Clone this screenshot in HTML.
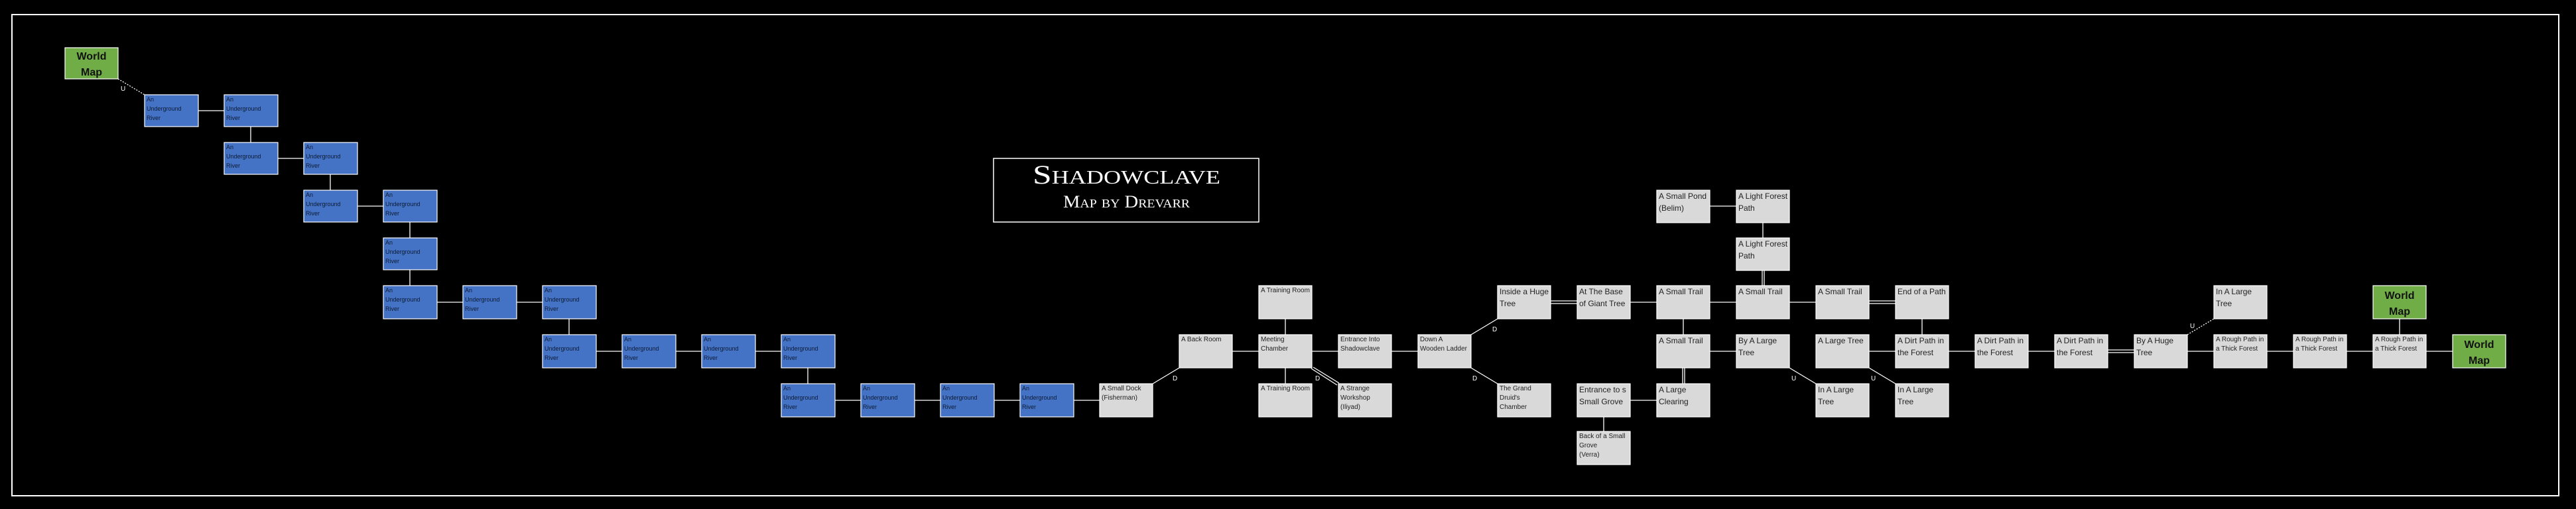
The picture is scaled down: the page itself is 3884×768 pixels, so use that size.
<!DOCTYPE html>
<html><head><meta charset="utf-8"><style>
html,body{margin:0;padding:0;background:#000;width:3884px;height:768px;overflow:hidden}
svg{display:block}
.b{fill:#4472C4;stroke:#fff;stroke-width:1.2}
.g{fill:#D9D9D9;stroke:#fff;stroke-width:1.2}
.w{fill:#70AD47;stroke:#fff;stroke-width:1.2}
.bt{font-family:"Liberation Sans Narrow","Liberation Sans",sans-serif;font-size:9px;fill:#0d1a33}
.s{font-family:"Liberation Sans Narrow","Liberation Sans",sans-serif;font-size:10px;fill:#222}
.m{font-family:"Liberation Sans Narrow","Liberation Sans",sans-serif;font-size:12px;fill:#222}
.wt{font-family:"Liberation Sans",sans-serif;font-size:16px;font-weight:bold;fill:#111;text-anchor:middle}
.l{font-family:"Liberation Sans",sans-serif;font-size:10px;fill:#fff}
line{stroke:#fff;stroke-width:1.3}
</style></head><body>
<svg width="3884" height="768" viewBox="0 0 3884 768" xmlns="http://www.w3.org/2000/svg">
<rect x="18" y="22" width="3840" height="726" fill="none" stroke="#fff" stroke-width="2"/>
<!-- title -->
<rect x="1498" y="239" width="400" height="96" fill="#000" stroke="#fff" stroke-width="1.5"/>
<text x="1557" y="277" textLength="283" lengthAdjust="spacingAndGlyphs" font-family="Liberation Serif,serif" font-size="40" style="font-variant:small-caps" fill="#fff">Shadowclave</text>
<text x="1603" y="313" textLength="191" lengthAdjust="spacingAndGlyphs" font-family="Liberation Serif,serif" font-size="26" style="font-variant:small-caps" fill="#fff">Map by Drevarr</text>

<!-- connectors -->
<line x1="178" y1="119" x2="218" y2="143" stroke-dasharray="2,2"/>
<text class="l" x="182" y="137">U</text>
<line x1="299" y1="167" x2="338" y2="167"/>
<line x1="378" y1="191" x2="378" y2="215"/>
<line x1="419" y1="239" x2="458" y2="239"/>
<line x1="498" y1="263" x2="498" y2="287"/>
<line x1="539" y1="311" x2="578" y2="311"/>
<line x1="618" y1="335" x2="618" y2="359"/>
<line x1="618" y1="407" x2="618" y2="431"/>
<line x1="659" y1="456" x2="698" y2="456"/>
<line x1="779" y1="456" x2="818" y2="456"/>
<line x1="858" y1="481" x2="858" y2="505"/>
<line x1="899" y1="530" x2="938" y2="530"/>
<line x1="1019" y1="530" x2="1058" y2="530"/>
<line x1="1139" y1="530" x2="1178" y2="530"/>
<line x1="1218" y1="555" x2="1218" y2="579"/>
<line x1="1259" y1="604" x2="1298" y2="604"/>
<line x1="1379" y1="604" x2="1418" y2="604"/>
<line x1="1499" y1="604" x2="1538" y2="604"/>
<line x1="1619" y1="604" x2="1658" y2="604"/>
<line x1="1738" y1="579" x2="1778" y2="555"/>
<text class="l" x="1768" y="574">D</text>
<line x1="1858" y1="530" x2="1898" y2="530"/>
<line x1="1938" y1="481" x2="1938" y2="505"/>
<line x1="1938" y1="555" x2="1938" y2="579"/>
<line x1="1978" y1="530" x2="2018" y2="530"/>
<line x1="2098" y1="530" x2="2138" y2="530"/>
<line x1="1977" y1="556" x2="2016" y2="581"/>
<line x1="1980" y1="554" x2="2019" y2="578"/>
<text class="l" x="1983" y="574">D</text>
<line x1="2218" y1="505" x2="2258" y2="481"/>
<text class="l" x="2250" y="500">D</text>
<line x1="2218" y1="555" x2="2258" y2="579"/>
<text class="l" x="2220" y="574">D</text>
<line x1="2338" y1="454" x2="2378" y2="454"/>
<line x1="2338" y1="458" x2="2378" y2="458"/>
<line x1="2458" y1="456" x2="2498" y2="456"/>
<line x1="2578" y1="456" x2="2618" y2="456"/>
<line x1="2698" y1="456" x2="2738" y2="456"/>
<line x1="2818" y1="454" x2="2858" y2="454"/>
<line x1="2818" y1="458" x2="2858" y2="458"/>
<line x1="2657" y1="408" x2="2657" y2="431"/>
<line x1="2660" y1="408" x2="2660" y2="431"/>
<line x1="2658" y1="336" x2="2658" y2="359"/>
<line x1="2578" y1="311" x2="2618" y2="311"/>
<line x1="2538" y1="481" x2="2538" y2="505"/>
<line x1="2537" y1="555" x2="2537" y2="579"/>
<line x1="2540" y1="555" x2="2540" y2="579"/>
<line x1="2578" y1="530" x2="2618" y2="530"/>
<line x1="2698" y1="555" x2="2738" y2="579"/>
<text class="l" x="2701" y="574">U</text>
<line x1="2818" y1="530" x2="2858" y2="530"/>
<line x1="2818" y1="555" x2="2858" y2="579"/>
<text class="l" x="2821" y="574">U</text>
<line x1="2898" y1="481" x2="2898" y2="505"/>
<line x1="2938" y1="530" x2="2978" y2="530"/>
<line x1="3058" y1="530" x2="3098" y2="530"/>
<line x1="3178" y1="528" x2="3218" y2="528"/>
<line x1="3178" y1="532" x2="3218" y2="532"/>
<line x1="3298" y1="530" x2="3338" y2="530"/>
<line x1="3418" y1="530" x2="3458" y2="530"/>
<line x1="3538" y1="530" x2="3578" y2="530"/>
<line x1="3658" y1="530" x2="3698" y2="530"/>
<line x1="3618" y1="481" x2="3618" y2="505"/>
<line x1="3298" y1="505" x2="3338" y2="481" stroke-dasharray="2,2"/>
<text class="l" x="3302" y="495">U</text>
<line x1="2458" y1="604" x2="2498" y2="604"/>
<line x1="2418" y1="629" x2="2418" y2="651"/>

<!-- world maps -->
<rect class="w" x="98" y="72" width="80" height="47"/><text class="wt" x="138" y="90">World</text><text class="wt" x="138" y="114">Map</text>
<rect class="w" x="3578" y="431" width="80" height="50"/><text class="wt" x="3618" y="451">World</text><text class="wt" x="3618" y="475">Map</text>
<rect class="w" x="3698" y="505" width="80" height="50"/><text class="wt" x="3738" y="525">World</text><text class="wt" x="3738" y="549">Map</text>

<!-- blue boxes -->
<g>
<rect class="b" x="218" y="143" width="81" height="48"/><text class="bt" x="221" y="153">An</text><text class="bt" x="221" y="167">Underground</text><text class="bt" x="221" y="181">River</text>
<rect class="b" x="338" y="143" width="81" height="48"/><text class="bt" x="341" y="153">An</text><text class="bt" x="341" y="167">Underground</text><text class="bt" x="341" y="181">River</text>
<rect class="b" x="338" y="215" width="81" height="48"/><text class="bt" x="341" y="225">An</text><text class="bt" x="341" y="239">Underground</text><text class="bt" x="341" y="253">River</text>
<rect class="b" x="458" y="215" width="81" height="48"/><text class="bt" x="461" y="225">An</text><text class="bt" x="461" y="239">Underground</text><text class="bt" x="461" y="253">River</text>
<rect class="b" x="458" y="287" width="81" height="48"/><text class="bt" x="461" y="297">An</text><text class="bt" x="461" y="311">Underground</text><text class="bt" x="461" y="325">River</text>
<rect class="b" x="578" y="287" width="81" height="48"/><text class="bt" x="581" y="297">An</text><text class="bt" x="581" y="311">Underground</text><text class="bt" x="581" y="325">River</text>
<rect class="b" x="578" y="359" width="81" height="48"/><text class="bt" x="581" y="369">An</text><text class="bt" x="581" y="383">Underground</text><text class="bt" x="581" y="397">River</text>
<rect class="b" x="578" y="431" width="81" height="50"/><text class="bt" x="581" y="441">An</text><text class="bt" x="581" y="455">Underground</text><text class="bt" x="581" y="469">River</text>
<rect class="b" x="698" y="431" width="81" height="50"/><text class="bt" x="701" y="441">An</text><text class="bt" x="701" y="455">Underground</text><text class="bt" x="701" y="469">River</text>
<rect class="b" x="818" y="431" width="81" height="50"/><text class="bt" x="821" y="441">An</text><text class="bt" x="821" y="455">Underground</text><text class="bt" x="821" y="469">River</text>
<rect class="b" x="818" y="505" width="81" height="50"/><text class="bt" x="821" y="515">An</text><text class="bt" x="821" y="529">Underground</text><text class="bt" x="821" y="543">River</text>
<rect class="b" x="938" y="505" width="81" height="50"/><text class="bt" x="941" y="515">An</text><text class="bt" x="941" y="529">Underground</text><text class="bt" x="941" y="543">River</text>
<rect class="b" x="1058" y="505" width="81" height="50"/><text class="bt" x="1061" y="515">An</text><text class="bt" x="1061" y="529">Underground</text><text class="bt" x="1061" y="543">River</text>
<rect class="b" x="1178" y="505" width="81" height="50"/><text class="bt" x="1181" y="515">An</text><text class="bt" x="1181" y="529">Underground</text><text class="bt" x="1181" y="543">River</text>
<rect class="b" x="1178" y="579" width="81" height="50"/><text class="bt" x="1181" y="589">An</text><text class="bt" x="1181" y="603">Underground</text><text class="bt" x="1181" y="617">River</text>
<rect class="b" x="1298" y="579" width="81" height="50"/><text class="bt" x="1301" y="589">An</text><text class="bt" x="1301" y="603">Underground</text><text class="bt" x="1301" y="617">River</text>
<rect class="b" x="1418" y="579" width="81" height="50"/><text class="bt" x="1421" y="589">An</text><text class="bt" x="1421" y="603">Underground</text><text class="bt" x="1421" y="617">River</text>
<rect class="b" x="1538" y="579" width="81" height="50"/><text class="bt" x="1541" y="589">An</text><text class="bt" x="1541" y="603">Underground</text><text class="bt" x="1541" y="617">River</text>
</g>

<!-- grey boxes small text -->
<rect class="g" x="1658" y="579" width="80" height="50"/><text class="s" x="1661" y="589">A Small Dock</text><text class="s" x="1661" y="603">(Fisherman)</text>
<rect class="g" x="1778" y="505" width="80" height="50"/><text class="s" x="1781" y="515">A Back Room</text>
<rect class="g" x="1898" y="431" width="80" height="50"/><text class="s" x="1901" y="441">A Training Room</text>
<rect class="g" x="1898" y="505" width="80" height="50"/><text class="s" x="1901" y="515">Meeting</text><text class="s" x="1901" y="529">Chamber</text>
<rect class="g" x="1898" y="579" width="80" height="50"/><text class="s" x="1901" y="589">A Training Room</text>
<rect class="g" x="2018" y="505" width="80" height="50"/><text class="s" x="2021" y="515">Entrance Into</text><text class="s" x="2021" y="529">Shadowclave</text>
<rect class="g" x="2018" y="579" width="80" height="50"/><text class="s" x="2021" y="589">A Strange</text><text class="s" x="2021" y="603">Workshop</text><text class="s" x="2021" y="617">(Iliyad)</text>
<rect class="g" x="2138" y="505" width="80" height="50"/><text class="s" x="2141" y="515">Down A</text><text class="s" x="2141" y="529">Wooden Ladder</text>
<rect class="g" x="2258" y="579" width="80" height="50"/><text class="s" x="2261" y="589">The Grand</text><text class="s" x="2261" y="603">Druid's</text><text class="s" x="2261" y="617">Chamber</text>
<rect class="g" x="2378" y="651" width="80" height="50"/><text class="s" x="2381" y="661">Back of a Small</text><text class="s" x="2381" y="675">Grove</text><text class="s" x="2381" y="689">(Verra)</text>
<rect class="g" x="3338" y="505" width="80" height="50"/><text class="s" x="3341" y="515">A Rough Path in</text><text class="s" x="3341" y="529">a Thick Forest</text>
<rect class="g" x="3458" y="505" width="80" height="50"/><text class="s" x="3461" y="515">A Rough Path in</text><text class="s" x="3461" y="529">a Thick Forest</text>
<rect class="g" x="3578" y="505" width="80" height="50"/><text class="s" x="3581" y="515">A Rough Path in</text><text class="s" x="3581" y="529">a Thick Forest</text>

<!-- grey boxes medium text -->
<rect class="g" x="2258" y="431" width="80" height="50"/><text class="m" x="2261" y="444">Inside a Huge</text><text class="m" x="2261" y="462">Tree</text>
<rect class="g" x="2378" y="431" width="80" height="50"/><text class="m" x="2381" y="444">At The Base</text><text class="m" x="2381" y="462">of Giant Tree</text>
<rect class="g" x="2498" y="431" width="80" height="50"/><text class="m" x="2501" y="444">A Small Trail</text>
<rect class="g" x="2618" y="431" width="80" height="50"/><text class="m" x="2621" y="444">A Small Trail</text>
<rect class="g" x="2738" y="431" width="80" height="50"/><text class="m" x="2741" y="444">A Small Trail</text>
<rect class="g" x="2858" y="431" width="80" height="50"/><text class="m" x="2861" y="444">End of a Path</text>
<rect class="g" x="2498" y="287" width="80" height="49"/><text class="m" x="2501" y="300">A Small Pond</text><text class="m" x="2501" y="318">(Belim)</text>
<rect class="g" x="2618" y="287" width="80" height="49"/><text class="m" x="2621" y="300">A Light Forest</text><text class="m" x="2621" y="318">Path</text>
<rect class="g" x="2618" y="359" width="80" height="49"/><text class="m" x="2621" y="372">A Light Forest</text><text class="m" x="2621" y="390">Path</text>
<rect class="g" x="2498" y="505" width="80" height="50"/><text class="m" x="2501" y="518">A Small Trail</text>
<rect class="g" x="2618" y="505" width="80" height="50"/><text class="m" x="2621" y="518">By A Large</text><text class="m" x="2621" y="536">Tree</text>
<rect class="g" x="2738" y="505" width="80" height="50"/><text class="m" x="2741" y="518">A Large Tree</text>
<rect class="g" x="2858" y="505" width="80" height="50"/><text class="m" x="2861" y="518">A Dirt Path in</text><text class="m" x="2861" y="536">the Forest</text>
<rect class="g" x="2978" y="505" width="80" height="50"/><text class="m" x="2981" y="518">A Dirt Path in</text><text class="m" x="2981" y="536">the Forest</text>
<rect class="g" x="3098" y="505" width="80" height="50"/><text class="m" x="3101" y="518">A Dirt Path in</text><text class="m" x="3101" y="536">the Forest</text>
<rect class="g" x="3218" y="505" width="80" height="50"/><text class="m" x="3221" y="518">By A Huge</text><text class="m" x="3221" y="536">Tree</text>
<rect class="g" x="3338" y="431" width="80" height="50"/><text class="m" x="3341" y="444">In A Large</text><text class="m" x="3341" y="462">Tree</text>
<rect class="g" x="2378" y="579" width="80" height="50"/><text class="m" x="2381" y="592">Entrance to s</text><text class="m" x="2381" y="610">Small Grove</text>
<rect class="g" x="2498" y="579" width="80" height="50"/><text class="m" x="2501" y="592">A Large</text><text class="m" x="2501" y="610">Clearing</text>
<rect class="g" x="2738" y="579" width="80" height="50"/><text class="m" x="2741" y="592">In A Large</text><text class="m" x="2741" y="610">Tree</text>
<rect class="g" x="2858" y="579" width="80" height="50"/><text class="m" x="2861" y="592">In A Large</text><text class="m" x="2861" y="610">Tree</text>
</svg>
</body></html>
